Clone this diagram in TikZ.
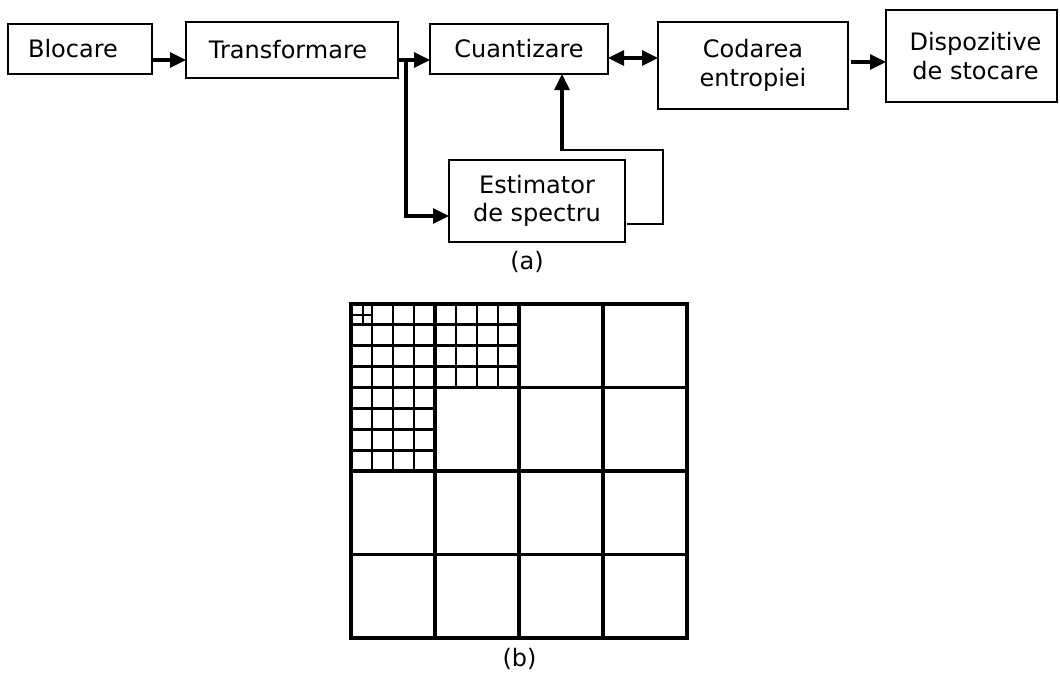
\documentclass[tikz,border=0pt]{standalone}
\usepackage{fontspec}
\setmainfont{DejaVu Sans}
\usetikzlibrary{arrows.meta}
\begin{document}
\begin{tikzpicture}[x=1pt,y=-1pt,
  box/.style={draw, line width=2.4pt, inner sep=0pt, outer sep=0pt, align=center,
    font=\fontsize{24}{28.5}\selectfont},
  arr/.style={line width=3.2pt, -{Triangle[length=16pt,width=15pt]}},
  darr/.style={line width=3.2pt, {Triangle[length=16pt,width=15pt]}-{Triangle[length=16pt,width=15pt]}},
  fb/.style={line width=2.4pt},
  lbl/.style={font=\fontsize{24}{28}\selectfont, inner sep=0pt},
  gmaj/.style={line width=3.8pt},
  gmin/.style={line width=2.8pt},
  gtiny/.style={line width=2pt}]
\useasboundingbox (0,0) rectangle (1060,672);

% top diagram (a)
\node[box, minimum width=144pt, minimum height=50pt] (blk) at (80,49) {Blocare\hspace{14pt}};
\node[box, minimum width=212pt, minimum height=56pt] (trf) at (292,50) {Transformare\hspace{8pt}};
\node[box, minimum width=178pt, minimum height=50pt] (cua) at (519,49) {Cuantizare};
\node[box, minimum width=190pt, minimum height=87pt] (cod) at (753,65.5) {Codarea\\entropiei};
\node[box, minimum width=171pt, minimum height=92pt] (dsp) at (971.5,56) {\hspace{8pt}Dispozitive\\\hspace{8pt}de stocare};
\node[box, minimum width=176pt, minimum height=82pt] (est) at (537,201) {Estimator\\de spectru};

\coordinate (br) at (406,60);
\draw[arr] (blk.east |- br) -- (trf.west |- br);
\draw[arr] (trf.east |- br) -- (cua.west |- br);
\draw[arr] (br) -- (406,216) -- (est.west |- 0,216);
\draw[darr] (cua.east |- 0,58) -- (cod.west |- 0,58);
\draw[arr] ([xshift=3pt]cod.east |- 0,62) -- (dsp.west |- 0,62);
\draw[fb] ([xshift=2pt]est.east |- 0,224) -- (663,224) -- (663,150) -- (562,150);
\draw[arr] (562,151) -- (562,0 |- cua.south);

\node[lbl] (la) at (527,262) {(a)};

% bottom diagram (b): grid, 4x4 cells of 84 x 83.5
% subgrids (4x4) in cells (0,0), (1,0), (0,1)
\foreach \cx/\cy in {351/304, 435/304, 351/387.5} {
  \foreach \k in {1,2,3} {
    \draw[gmin] (\cx+21*\k,\cy) -- (\cx+21*\k,\cy+83.5);
    \draw[gmin] (\cx,\cy+20.875*\k) -- (\cx+84,\cy+20.875*\k);
  }
}
% tiny cross in the very first cell
\draw[gtiny] (362.5,304) -- (362.5,324.9);
\draw[gtiny] (351,314.5) -- (372,314.5);
% major grid
\foreach \k in {1,2,3} {
  \draw[gmaj] (351+84*\k,304) -- (351+84*\k,638);
  \draw[gmaj] (351,304+83.5*\k) -- (687,304+83.5*\k);
}
\draw[line width=4.4pt] (351,304) rectangle (687,638);

\node[lbl] (lb) at (519.5,659) {(b)};
\end{tikzpicture}
\end{document}
